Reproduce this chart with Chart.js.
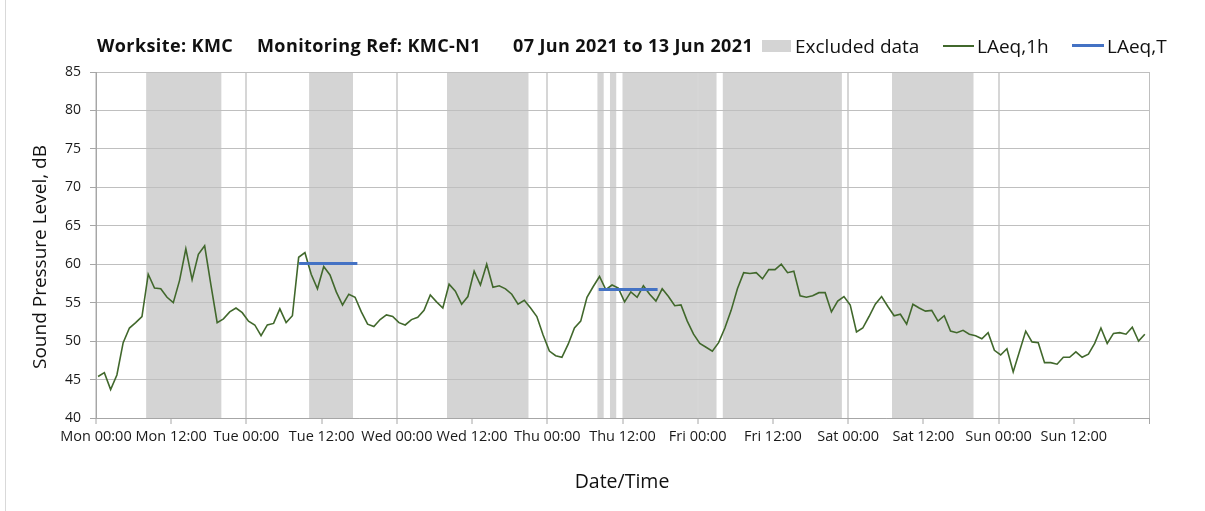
<!DOCTYPE html>
<html>
<head>
<meta charset="utf-8">
<script src="https://cdn.jsdelivr.net/npm/chart.js@4.4.1/dist/chart.umd.min.js"></script>
<style>
  html, body { margin: 0; padding: 0; background: #fff; }
  #wrap { position: relative; width: 1205px; height: 511px; background: #fff; overflow: hidden; font-family: "Open Sans", sans-serif; color: #111; }
  #c { position: absolute; left: 0; top: 0; }
  .t { position: absolute; white-space: nowrap; line-height: 24px; }
  .title { font-weight: bold; font-size: 18px; letter-spacing: 0.4px; top: 33px; }
  .leg { font-size: 19px; top: 34px; }
  .frame { position: absolute; left: 5px; top: 0; width: 1px; height: 511px; background: #d9d9d9; }
</style>
</head>
<body>
<div id="wrap">
  <canvas id="c" width="1205" height="511"></canvas>
  <div class="frame"></div>
  <div class="t title" style="left:97px">Worksite: KMC</div>
  <div class="t title" style="left:257px">Monitoring Ref: KMC-N1</div>
  <div class="t title" style="left:513px">07 Jun 2021 to 13 Jun 2021</div>
  <div style="position:absolute;left:762px;top:40px;width:29px;height:12px;background:#d4d4d4"></div>
  <div class="t leg" style="left:795px">Excluded data</div>
  <div style="position:absolute;left:943px;top:45px;width:31px;height:2px;background:#41682c"></div>
  <div class="t leg" style="left:977px">LAeq,1h</div>
  <div style="position:absolute;left:1072px;top:44px;width:32px;height:3px;background:#4472c4"></div>
  <div class="t leg" style="left:1107px">LAeq,T</div>
  <div class="t" style="font-size:19px;left:-111px;top:245px;width:300px;text-align:center;transform:rotate(-90deg)">Sound Pressure Level, dB</div>
  <div class="t" style="font-size:19.5px;left:472px;top:469px;width:300px;text-align:center">Date/Time</div>
</div>
<script>
// ---- data ----
const xTickLabels = ['Mon 00:00','Mon 12:00','Tue 00:00','Tue 12:00','Wed 00:00','Wed 12:00','Thu 00:00',
                     'Thu 12:00','Fri 00:00','Fri 12:00','Sat 00:00','Sat 12:00','Sun 00:00','Sun 12:00'];
const minutesPastHour = 20; // timestamp of each hourly sample within its hour
const laeq1h = [
  45.4, 45.9, 43.7, 45.6, 49.8, 51.7, 52.4, 53.2, 58.7, 56.9,
  56.8, 55.7, 55.0, 57.9, 62.0, 58.0, 61.3, 62.4, 57.3, 52.4,
  52.9, 53.8, 54.3, 53.7, 52.6, 52.1, 50.7, 52.1, 52.3, 54.2,
  52.4, 53.3, 60.9, 61.5, 58.7, 56.8, 59.7, 58.6, 56.4, 54.7,
  56.1, 55.7, 53.8, 52.2, 51.9, 52.8, 53.4, 53.2, 52.4, 52.1,
  52.8, 53.1, 54.0, 56.0, 55.1, 54.3, 57.4, 56.5, 54.8, 55.8,
  59.1, 57.3, 60.0, 57.0, 57.2, 56.8, 56.1, 54.8, 55.3, 54.3,
  53.2, 50.8, 48.7, 48.1, 47.9, 49.6, 51.7, 52.6, 55.7, 57.1,
  58.4, 56.7, 57.3, 56.9, 55.1, 56.4, 55.7, 57.2, 56.1, 55.2,
  56.8, 55.8, 54.6, 54.7, 52.6, 50.9, 49.7, 49.2, 48.7, 49.8,
  51.7, 54.0, 56.8, 58.9, 58.8, 58.9, 58.1, 59.3, 59.3, 60.0,
  58.9, 59.1, 55.9, 55.7, 55.9, 56.3, 56.3, 53.8, 55.2, 55.8,
  54.7, 51.2, 51.7, 53.2, 54.8, 55.8, 54.5, 53.3, 53.5, 52.2,
  54.8, 54.3, 53.9, 54.0, 52.6, 53.3, 51.3, 51.1, 51.4, 50.9,
  50.7, 50.3, 51.1, 48.8, 48.2, 49.0, 46.0, 48.65, 51.3, 49.9,
  49.8, 47.2, 47.2, 47.0, 47.9, 47.9, 48.6, 47.9, 48.3, 49.7,
  51.7, 49.7, 51.0, 51.1, 50.9, 51.8, 50.0, 50.9
];
// excluded periods, hours from Mon 00:00
const excludedStart = [8, 34, 56, 80, 82, 84, 100, 127];
const excludedEnd   = [20, 41, 69, 81, 83, 99, 119, 140];
// LAeq,T periods
const laeqTStart = [32.4, 80.2];
const laeqTEnd   = [41.7, 89.6];
const laeqTValue = [60.1, 56.7];

// ---- chart ----
const green = '#41682c';
const blue = '#4472c4';
const hourOffset = minutesPastHour / 60;
const lineData = laeq1h.map((v, i) => ({ x: i + hourOffset, y: v }));

const datasets = laeqTValue.map((v, k) => ({
  label: 'LAeq,T',
  data: [{ x: laeqTStart[k], y: v }, { x: laeqTEnd[k], y: v }],
  borderColor: blue, borderWidth: 3, pointRadius: 0, borderCapStyle: 'butt', order: 0
}));
datasets.push({
  label: 'LAeq,1h', data: lineData, borderColor: green, borderWidth: 1.6,
  pointRadius: 0, tension: 0, order: 1
});

const bandPlugin = {
  id: 'bands',
  beforeDraw(chart) {
    const { ctx, chartArea, scales } = chart;
    ctx.save();
    ctx.fillStyle = '#d4d4d4';
    excludedStart.forEach((s, k) => {
      const x1 = scales.x.getPixelForValue(s);
      const x2 = scales.x.getPixelForValue(excludedEnd[k]);
      ctx.fillRect(x1, chartArea.top, x2 - x1, chartArea.bottom - chartArea.top);
    });
    ctx.restore();
  }
};

const tickFont = { family: 'Open Sans', size: 14.5 };
new Chart(document.getElementById('c'), {
  type: 'line',
  data: { datasets },
  plugins: [bandPlugin],
  options: {
    responsive: false,
    animation: false,
    devicePixelRatio: 1,
    layout: { padding: { top: 72, right: 56, left: 0, bottom: 0 } },
    plugins: { legend: { display: false }, title: { display: false }, tooltip: { enabled: false } },
    elements: { line: { tension: 0 } },
    scales: {
      x: {
        type: 'linear', min: 0, max: 168,
        afterFit(scale) { scale.height = 93; },
        ticks: {
          stepSize: 12, autoSkip: false, maxRotation: 0, minRotation: 0,
          padding: 4, color: '#1a1a1a', font: tickFont,
          callback: (v) => (xTickLabels[v / 12] !== undefined ? xTickLabels[v / 12] : '')
        },
        grid: {
          color: (c) => {
            if (!c.tick) return 'rgba(0,0,0,0)';
            if (c.tick.value === 168) return '#bfbfbf';
            return c.tick.value % 24 === 0 ? '#d6d6d6' : 'rgba(0,0,0,0)';
          },
          lineWidth: (c) => (c.tick && c.tick.value === 168 ? 1 : 2),
          tickLength: 6, tickColor: '#a6a6a6', tickWidth: 1, drawTicks: true
        },
        border: { color: '#a6a6a6', width: 1 }
      },
      y: {
        min: 40, max: 85,
        afterFit(scale) { scale.width = 96; },
        ticks: { stepSize: 5, padding: 9, color: '#1a1a1a', font: { family: 'Open Sans', size: 14 } },
        grid: { color: '#bfbfbf', lineWidth: 1, tickLength: 6, tickColor: '#a6a6a6' },
        border: { color: '#a6a6a6', width: 1 }
      }
    }
  }
});
</script>
</body>
</html>
